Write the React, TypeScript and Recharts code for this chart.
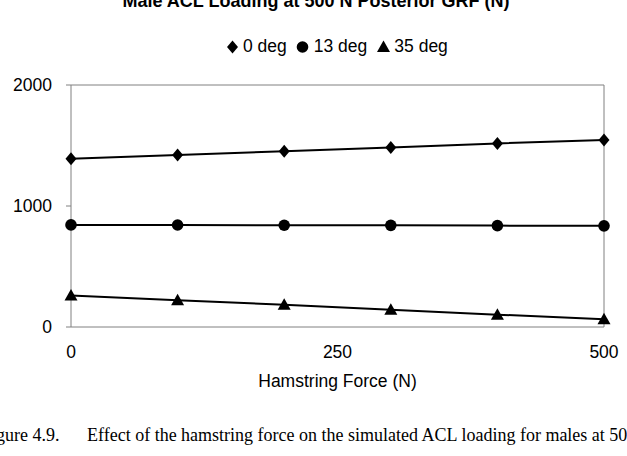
import React from 'react';
import { LineChart, Line, XAxis, YAxis, ReferenceArea } from 'recharts';

// Hamstring force levels (N)
const hamstringForce = [0, 100, 200, 300, 400, 500];

// ACL loading (N) at each knee flexion angle
const deg0 = [1390, 1422, 1452, 1484, 1517, 1546];
const deg13 = [844, 843, 841, 840, 838, 836];
const deg35 = [260, 222, 184, 142, 102, 65];

const xTicks = [0, 250, 500];
const yTicks = [0, 1000, 2000];

const seriesNames = ['0 deg', '13 deg', '35 deg'];

const data = hamstringForce.map((f, i) => ({
  force: f,
  d0: deg0[i],
  d13: deg13[i],
  d35: deg35[i],
}));

const FONT = '"Liberation Sans", Arial, sans-serif';
const SERIF = '"Liberation Serif", "Times New Roman", serif';

const Diamond = ({ cx, cy }: any) => (
  <polygon points={`${cx},${cy - 6.5} ${cx + 5.5},${cy} ${cx},${cy + 6.5} ${cx - 5.5},${cy}`} fill="#000" />
);
const Circle = ({ cx, cy }: any) => <circle cx={cx} cy={cy} r={5.8} fill="#000" />;
const Triangle = ({ cx, cy }: any) => (
  <polygon points={`${cx},${cy - 6.5} ${cx + 6.5},${cy + 5} ${cx - 6.5},${cy + 5}`} fill="#000" />
);

const markers = [Diamond, Circle, Triangle];

function ChartLegend() {
  return (
    <div
      style={{
        position: 'absolute',
        top: 36,
        left: 224.5,
        display: 'flex',
        alignItems: 'center',
        fontFamily: FONT,
        fontSize: 17.5,
        color: '#000',
        whiteSpace: 'nowrap',
      }}
    >
      {seriesNames.map((name, i) => {
        const M = markers[i];
        return (
          <span key={name} style={{ display: 'inline-flex', alignItems: 'center', marginRight: 8.5 }}>
            <svg width={15} height={16}>
              <M cx={7.5} cy={8} />
            </svg>
            <span style={{ marginLeft: 3.5 }}>{name}</span>
          </span>
        );
      })}
    </div>
  );
}

export default function App() {
  return (
    <div style={{ position: 'absolute', left: 0, top: 0, width: 627, height: 456, background: '#fff', overflow: 'hidden' }}>
      <div
        style={{
          position: 'absolute',
          left: 316 - 250,
          width: 500,
          top: -9,
          textAlign: 'center',
          fontFamily: FONT,
          fontWeight: 'bold',
          fontSize: 18,
          whiteSpace: 'nowrap',
        }}
      >
        Male ACL Loading at 500 N Posterior GRF (N)
      </div>
      <ChartLegend />
      <LineChart width={627} height={456} data={data} margin={{ top: 85, right: 23, left: 11, bottom: 69 }}>
        <XAxis
          dataKey="force"
          type="number"
          domain={[0, 500]}
          ticks={xTicks}
          tickLine={false}
          axisLine={false}
          tick={{ fontSize: 17.5, fill: '#000', fontFamily: FONT }}
          tickMargin={13}
          height={60}
          label={{ value: 'Hamstring Force (N)', position: 'insideBottom', offset: 0, fontSize: 17.5, fill: '#000', fontFamily: FONT }}
        />
        <YAxis
          type="number"
          domain={[0, 2000]}
          ticks={yTicks}
          width={60}
          tickSize={5}
          tickLine={{ stroke: '#808080' }}
          axisLine={false}
          tick={{ fontSize: 17.5, fill: '#000', fontFamily: FONT }}
          tickMargin={14}
        />
        <ReferenceArea x1={0} x2={500} y1={0} y2={2000} fill="none" stroke="#808080" strokeWidth={1} ifOverflow="visible" />
        <Line dataKey="d0" name={seriesNames[0]} stroke="#000" strokeWidth={2} dot={<Diamond />} isAnimationActive={false} />
        <Line dataKey="d13" name={seriesNames[1]} stroke="#000" strokeWidth={2} dot={<Circle />} isAnimationActive={false} />
        <Line dataKey="d35" name={seriesNames[2]} stroke="#000" strokeWidth={2} dot={<Triangle />} isAnimationActive={false} />
      </LineChart>
      <div style={{ position: 'absolute', left: -19, top: 425, whiteSpace: 'pre', fontFamily: SERIF, fontSize: 18, color: '#000' }}>
        Figure 4.9.
      </div>
      <div style={{ position: 'absolute', left: 87, top: 425, whiteSpace: 'pre', fontFamily: SERIF, fontSize: 18, color: '#000' }}>
        Effect of the hamstring force on the simulated ACL loading for males at 50
      </div>
    </div>
  );
}
